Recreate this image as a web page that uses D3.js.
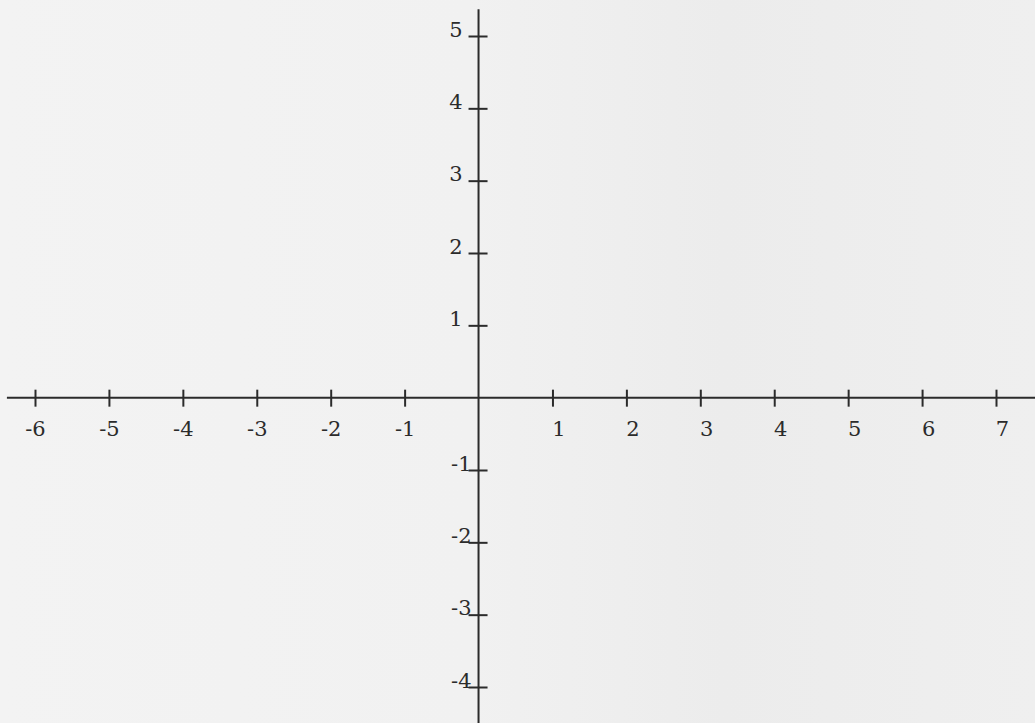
<!DOCTYPE html>
<html>
<head>
<meta charset="utf-8">
<script src="https://cdn.jsdelivr.net/npm/d3@7"></script>
<style>
    html, body { margin: 0; padding: 0; background: #f1f1f1; }
    svg { display: block; }
    .axis text { font-family: "DejaVu Serif", "Liberation Serif", serif; font-size: 21px; fill: #2b2b2b; }
    .axis line, .axis-line { stroke: #2b2b2b; stroke-width: 2; }
</style>
</head>
<body>
<div id="graph-container"></div>
<script>
// tick values for both axes
const xTicks = [-6, -5, -4, -3, -2, -1, 1, 2, 3, 4, 5, 6, 7];
const yTicks = [-4, -3, -2, -1, 1, 2, 3, 4, 5];
// how far the drawn axis lines run past the last ticks (in data units)
const xExtent = [-6.38, 7.55];
const yExtent = [-4.5, 5.37];

const width = 1035;
const height = 723;

const svg = d3.select('#graph-container')
    .append('svg')
    .attr('width', width)
    .attr('height', height);

// paper background, a touch darker on the right like the scan
const defs = svg.append('defs');
const grad = defs.append('linearGradient')
    .attr('id', 'paper')
    .attr('x1', 0).attr('x2', 1).attr('y1', 0).attr('y2', 0);
grad.append('stop').attr('offset', '0%').attr('stop-color', '#f3f3f3');
grad.append('stop').attr('offset', '45%').attr('stop-color', '#f1f1f1');
grad.append('stop').attr('offset', '70%').attr('stop-color', '#ececec');
grad.append('stop').attr('offset', '100%').attr('stop-color', '#efefef');

svg.append('rect')
    .attr('width', width)
    .attr('height', height)
    .attr('fill', 'url(#paper)');

// Scale
const xScale = d3.scaleLinear()
    .domain([-6, 7])
    .range([35, 996]);

const yScale = d3.scaleLinear()
    .domain([-4, 5])
    .range([687, 36]);

// main axis lines
svg.append('line')
    .attr('class', 'axis-line')
    .attr('x1', xScale(xExtent[0]))
    .attr('x2', xScale(xExtent[1]))
    .attr('y1', yScale(0))
    .attr('y2', yScale(0));

svg.append('line')
    .attr('class', 'axis-line')
    .attr('x1', xScale(0))
    .attr('x2', xScale(0))
    .attr('y1', yScale(yExtent[1]))
    .attr('y2', yScale(yExtent[0]));

// X Axis
const xAxis = d3.axisBottom(xScale)
    .tickValues(xTicks)
    .tickSizeOuter(0)
    .tickFormat((d) => d);

const gx = svg.append('g')
    .attr('class', 'axis')
    .attr('transform', `translate(0,${yScale(0)})`)
    .call(xAxis);

gx.select('.domain').remove();
gx.selectAll('.tick line')
    .attr('y1', -8)
    .attr('y2', 9);
gx.selectAll('.tick text')
    .attr('fill', null)
    .attr('y', 38)
    .attr('dy', 0)
    .attr('dx', (d) => (d > 0 ? 6 : 0))
    .attr('font-family', null)
    .attr('font-size', null);

// Y Axis
const yAxis = d3.axisLeft(yScale)
    .tickValues(yTicks)
    .tickSizeOuter(0)
    .tickFormat((d) => d);

const gy = svg.append('g')
    .attr('class', 'axis')
    .attr('transform', `translate(${xScale(0)},0)`)
    .call(yAxis);

gy.select('.domain').remove();
gy.selectAll('.tick line')
    .attr('x1', -10)
    .attr('x2', 9);
gy.selectAll('.tick text')
    .attr('fill', null)
    .attr('x', (d) => (d > 0 ? -16 : -7))
    .attr('dy', 0)
    .attr('font-family', null)
    .attr('font-size', null);
</script>
</body>
</html>
